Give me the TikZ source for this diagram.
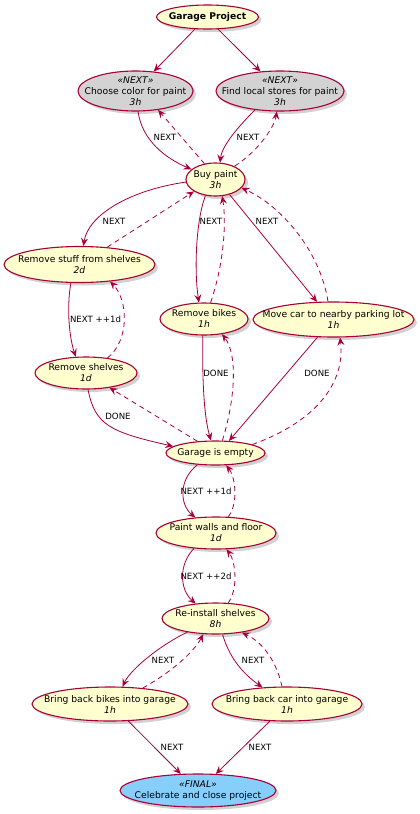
\documentclass[tikz,border=0pt]{standalone}
\usepackage{fontspec}
\setmainfont{DejaVu Sans}
\usetikzlibrary{shapes.geometric,arrows.meta,shadows}
\definecolor{bord}{HTML}{A80036}
\definecolor{ufill}{HTML}{FEFECE}
\definecolor{gfill}{HTML}{D3D3D3}
\definecolor{bfill}{HTML}{87CEFA}
\tikzset{
 uc/.style={ellipse, draw=bord, line width=1.1pt, fill=ufill, inner sep=0pt,
   drop shadow={shadow xshift=3pt,shadow yshift=-3pt,opacity=0.3,fill=black!60}},
 txt/.style={align=center, inner sep=0pt, font=\fontsize{9.2}{11}\selectfont, text=black},
 sol/.style={draw=bord, line width=0.8pt, -{Stealth[length=8pt,width=7pt,inset=3pt]}},
 dsh/.style={sol, dash pattern=on 5pt off 4pt},
 lbl/.style={font=\fontsize{8.6}{10}\selectfont, inner sep=0pt, text=black},
}
\begin{document}
\begin{tikzpicture}[x=1pt,y=1pt]
\useasboundingbox (0,0) rectangle (420,-814);
% nodes
\node[uc, minimum width=102pt, minimum height=24pt] (gp) at (207.5,-17) {};
\node[txt] (gpt) at (gp) {\textbf{Garage Project}};
\node[uc, fill=gfill, minimum width=115pt, minimum height=40pt] (choose) at (135.5,-91) {};
\node[txt] (chooset) at (choose) {\textit{«NEXT»}\\Choose color for paint\\\textit{3h}};
\node[uc, fill=gfill, minimum width=128pt, minimum height=40pt] (find) at (280,-91) {};
\node[txt] (findt) at (find) {\textit{«NEXT»}\\Find local stores for paint\\\textit{3h}};
\node[uc, minimum width=59pt, minimum height=33pt] (buy) at (215.5,-179.5) {};
\node[txt] (buyt) at (buy) {Buy paint\\\textit{3h}};
\node[uc, minimum width=151pt, minimum height=36pt] (stuff) at (79.5,-264.5) {};
\node[txt] (stufft) at (stuff) {Remove stuff from shelves\\\textit{2d}};
\node[uc, minimum width=88pt, minimum height=32pt] (bikes) at (204,-319) {};
\node[txt] (bikest) at (bikes) {Remove bikes\\\textit{1h}};
\node[uc, minimum width=161pt, minimum height=35pt] (car) at (333.5,-319.5) {};
\node[txt] (cart) at (car) {Move car to nearby parking lot\\\textit{1h}};
\node[uc, minimum width=102pt, minimum height=32pt] (rshelves) at (86,-373) {};
\node[txt] (rshelvest) at (rshelves) {Remove shelves\\\textit{1d}};
\node[uc, minimum width=99pt, minimum height=24pt] (empty) at (215.5,-453) {};
\node[txt] (emptyt) at (empty) {Garage is empty};
\node[uc, minimum width=120pt, minimum height=32pt] (paint) at (216,-533) {};
\node[txt] (paintt) at (paint) {Paint walls and floor\\\textit{1d}};
\node[uc, minimum width=107pt, minimum height=31pt] (reinst) at (215.5,-618.5) {};
\node[txt] (reinstt) at (reinst) {Re-install shelves\\\textit{8h}};
\node[uc, minimum width=156pt, minimum height=34pt] (bback) at (110,-704) {};
\node[txt] (bbackt) at (bback) {Bring back bikes into garage\\\textit{1h}};
\node[uc, minimum width=150pt, minimum height=34pt] (cback) at (287,-704) {};
\node[txt] (cbackt) at (cback) {Bring back car into garage\\\textit{1h}};
\node[uc, fill=bfill, minimum width=156pt, minimum height=33pt] (celeb) at (198,-790.5) {};
\node[txt] (celebt) at (celeb) {\textit{«FINAL»}\\Celebrate and close project};
% edges
\draw[sol] (gp.224) -- (choose.47);
\draw[sol] (gp.311) -- (find.135);
\draw[sol] (choose.277) .. controls (142,-140) and (165,-158) .. (buy.157);
\draw[dsh] (buy.125) -- (choose.320);
\draw[sol] (find.217) .. controls (240,-125) and (222,-145) .. (buy.75);
\draw[dsh] (buy.35) .. controls (260,-150) and (275,-125) .. (find.261);
\draw[sol] (buy.185) .. controls (130,-190) and (88,-215) .. (stuff.78);
\draw[dsh] (stuff.32) -- (buy.209);
\draw[sol] (buy.238) .. controls (196,-220) and (194,-270) .. (bikes.107);
\draw[dsh] (bikes.68) .. controls (225,-260) and (226,-220) .. (buy.292);
\draw[sol] (buy.313) -- (car.133);
\draw[dsh] (car.107) .. controls (320,-250) and (280,-205) .. (buy.342);
\draw[sol] (stuff.245) .. controls (66,-310) and (70,-340) .. (rshelves.122);
\draw[dsh] (rshelves.35) .. controls (130,-340) and (128,-300) .. (stuff.331);
\draw[sol] (bikes.266) .. controls (202,-390) and (205,-420) .. (empty.110);
\draw[dsh] (empty.61) .. controls (235,-400) and (238,-355) .. (bikes.320);
\draw[sol] (car.228) -- (empty.42);
\draw[dsh] (empty.13) .. controls (320,-420) and (345,-380) .. (car.290);
\draw[sol] (rshelves.277) .. controls (95,-425) and (110,-432) .. (empty.171);
\draw[dsh] (empty.147) -- (rshelves.328);
\draw[sol] (empty.213) .. controls (178,-480) and (180,-505) .. (paint.143);
\draw[dsh] (paint.53) .. controls (238,-505) and (236,-478) .. (empty.311);
\draw[sol] (paint.215) .. controls (178,-565) and (180,-590) .. (reinst.143);
\draw[dsh] (reinst.51) .. controls (238,-590) and (236,-562) .. (paint.303);
\draw[sol] (reinst.206) .. controls (160,-645) and (130,-670) .. (bback.54);
\draw[dsh] (bback.26) .. controls (175,-670) and (195,-650) .. (reinst.232);
\draw[sol] (reinst.294) .. controls (230,-660) and (245,-675) .. (cback.146);
\draw[dsh] (cback.106) .. controls (275,-655) and (258,-640) .. (reinst.332);
\draw[sol] (bback.317) -- (celeb.136);
\draw[sol] (cback.225) -- (celeb.43);
% labels
\node[lbl] (l3) at (165,-137) {NEXT};
\node[lbl] (l5) at (248,-137) {NEXT};
\node[lbl] (l7) at (114,-221) {NEXT};
\node[lbl] (l9) at (211,-221) {NEXT};
\node[lbl] (l11) at (267,-221) {NEXT};
\node[lbl] (l13) at (95.5,-319) {NEXT ++1d};
\node[lbl] (l15) at (216,-373) {DONE};
\node[lbl] (l17) at (317,-373) {DONE};
\node[lbl] (l19) at (118,-416) {DONE};
\node[lbl] (l21) at (206,-491) {NEXT ++1d};
\node[lbl] (l23) at (206,-576) {NEXT ++2d};
\node[lbl] (l25) at (163,-660) {NEXT};
\node[lbl] (l27) at (253,-660) {NEXT};
\node[lbl] (l29) at (172,-747) {NEXT};
\node[lbl] (l30) at (260,-747) {NEXT};
\end{tikzpicture}
\end{document}
